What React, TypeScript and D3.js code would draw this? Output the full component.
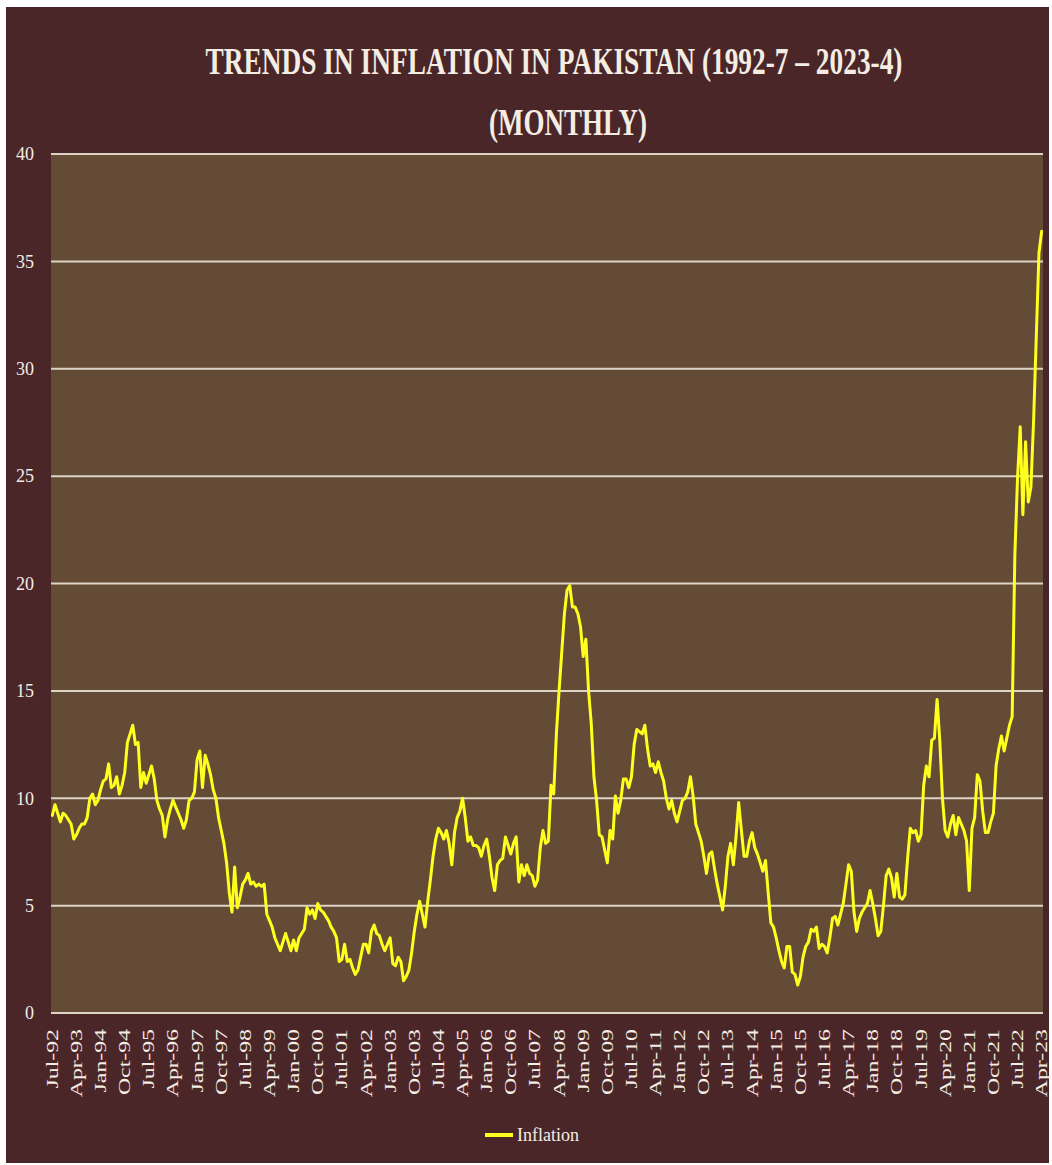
import React from "react";
import * as d3 from "d3";

// Monthly CPI inflation (%), Jul-1992 .. Apr-2023
const inflation1992to1999: number[] = [
  9.2, 9.7, 9.3, 8.9, 9.3, 9.2, 9.0, 8.8, 8.1, 8.3, 8.6, 8.8,
  8.8, 9.1, 10.0, 10.2, 9.7, 9.9, 10.4, 10.8, 10.9, 11.6, 10.5, 10.6,
  11.0, 10.2, 10.6, 11.2, 12.6, 13.0, 13.4, 12.5, 12.6, 10.5, 11.2, 10.7,
  11.1, 11.5, 10.9, 9.9, 9.5, 9.2, 8.2, 9.0, 9.5, 9.9, 9.6, 9.3,
  9.0, 8.6, 9.0, 9.9, 10.0, 10.3, 11.8, 12.2, 10.5, 12.0, 11.6, 11.1,
  10.4, 10.0, 9.1, 8.5, 7.9, 7.0, 5.6, 4.7, 6.8, 4.9, 5.4, 6.0,
  6.2, 6.5, 6.0, 6.1, 5.9, 6.0, 5.9, 6.0, 4.6, 4.3, 4.0, 3.5,
];
const inflation1999to2007: number[] = [
  3.2, 2.9, 3.3, 3.7, 3.3, 2.9, 3.4, 2.9, 3.5, 3.7, 3.9, 4.9,
  4.6, 4.8, 4.4, 5.1, 4.8, 4.7, 4.5, 4.3, 4.0, 3.8, 3.5, 2.4,
  2.5, 3.2, 2.4, 2.5, 2.1, 1.8, 2.0, 2.6, 3.2, 3.2, 2.8, 3.8,
  4.1, 3.7, 3.6, 3.2, 2.9, 3.2, 3.5, 2.3, 2.2, 2.6, 2.4, 1.5,
  1.7, 2.0, 2.8, 3.8, 4.6, 5.2, 4.6, 4.0, 5.2, 6.2, 7.3, 8.1,
  8.6, 8.4, 8.1, 8.5, 7.9, 6.9, 8.4, 9.1, 9.4, 10.0, 9.1, 8.0,
  8.2, 7.8, 7.8, 7.7, 7.3, 7.8, 8.1, 7.3, 6.3, 5.7, 6.9, 7.1,
  7.2, 8.2, 7.8, 7.4, 7.9, 8.2, 6.1, 6.9, 6.4, 6.9, 6.5, 6.4,
];
const inflation2007to2015: number[] = [
  5.9, 6.2, 7.7, 8.5, 7.9, 8.0, 10.6, 10.2, 13.0, 15.0, 16.8, 18.6,
  19.7, 19.9, 18.9, 18.9, 18.6, 18.0, 16.6, 17.4, 15.0, 13.5, 11.0, 9.9,
  8.3, 8.2, 7.6, 7.0, 8.5, 8.1, 10.1, 9.3, 9.9, 10.9, 10.9, 10.5,
  11.0, 12.5, 13.2, 13.1, 13.0, 13.4, 12.3, 11.5, 11.6, 11.2, 11.7, 11.2,
  10.8, 10.0, 9.5, 9.9, 9.3, 8.9, 9.4, 9.9, 10.0, 10.3, 11.0, 10.1,
  8.8, 8.4, 8.0, 7.3, 6.5, 7.4, 7.5, 6.7, 6.0, 5.4, 4.8, 5.9,
  7.3, 7.9, 6.9, 8.2, 9.8, 8.5, 7.3, 7.3, 8.0, 8.4, 7.7, 7.4,
  7.0, 6.6, 7.1, 5.6, 4.2, 4.0, 3.5, 2.9, 2.4, 2.1, 3.1, 3.1,
];
const inflation2015to2023: number[] = [
  1.9, 1.8, 1.3, 1.7, 2.6, 3.1, 3.3, 3.9, 3.8, 4.0, 3.0, 3.2,
  3.1, 2.8, 3.5, 4.4, 4.5, 4.1, 4.6, 5.1, 6.0, 6.9, 6.6, 4.7,
  3.8, 4.4, 4.7, 4.9, 5.1, 5.7, 5.1, 4.4, 3.6, 3.8, 5.0, 6.4,
  6.7, 6.3, 5.4, 6.5, 5.4, 5.3, 5.5, 7.2, 8.6, 8.4, 8.5, 8.0,
  8.3, 10.6, 11.5, 11.0, 12.7, 12.8, 14.6, 12.7, 10.0, 8.5, 8.2, 8.8,
  9.2, 8.3, 9.1, 8.8, 8.5, 8.0, 5.7, 8.6, 9.1, 11.1, 10.8, 9.4,
  8.4, 8.4, 8.9, 9.3, 11.5, 12.3, 12.9, 12.2, 12.8, 13.4, 13.8, 21.3,
  24.9, 27.3, 23.2, 26.6, 23.8, 24.5, 27.6, 31.5, 35.4, 36.4,
];
const inflation: number[] = [
  ...inflation1992to1999,
  ...inflation1999to2007,
  ...inflation2007to2015,
  ...inflation2015to2023,
];

// One label every 9 months, starting at Jul-92
const tickLabels: string[] = [
  "Jul-92", "Apr-93", "Jan-94", "Oct-94", "Jul-95", "Apr-96", "Jan-97",
  "Oct-97", "Jul-98", "Apr-99", "Jan-00", "Oct-00", "Jul-01", "Apr-02",
  "Jan-03", "Oct-03", "Jul-04", "Apr-05", "Jan-06", "Oct-06", "Jul-07",
  "Apr-08", "Jan-09", "Oct-09", "Jul-10", "Apr-11", "Jan-12", "Oct-12",
  "Jul-13", "Apr-14", "Jan-15", "Oct-15", "Jul-16", "Apr-17", "Jan-18",
  "Oct-18", "Jul-19", "Apr-20", "Jan-21", "Oct-21", "Jul-22", "Apr-23",
];
const tickStep = 9;
const yTicks: number[] = [0, 5, 10, 15, 20, 25, 30, 35, 40];
const titleLine1 = "TRENDS IN INFLATION IN PAKISTAN (1992-7 \u2013 2023-4)";
const titleLine2 = "(MONTHLY)";
const seriesName = "Inflation";

const W = 1052;
const H = 1165;
const plot = { left: 51, right: 1043, top: 154, bottom: 1013 };
const BG = "#4b2628";
const PLOT_BG = "#644b36";
const GRID = "#ddd4c6";
const TEXT = "#f4ede4";
const LINE = "#ffff1e";
const SERIF = "'Liberation Serif', 'DejaVu Serif', serif";

export default function App() {
  React.useEffect(() => {
    document.body.style.margin = "0";
  }, []);

  const x = d3
    .scaleBand<number>()
    .domain(d3.range(inflation.length))
    .range([plot.left, plot.right])
    .paddingInner(0)
    .paddingOuter(0);
  const bw = x.bandwidth();
  const cx = (i: number) => (x(i) as number) + bw / 2;
  const y = d3.scaleLinear().domain([0, 40]).range([plot.bottom, plot.top]);

  const line = d3
    .line<number>()
    .x((_, i) => cx(i))
    .y((d) => y(d))
    .curve(d3.curveLinear);

  return (
    <svg
      width={W}
      height={H}
      style={{ position: "absolute", left: 0, top: 0, display: "block" }}
    >
      <rect x={0} y={0} width={W} height={H} fill="#ffffff" />
      <rect x={6} y={7} width={1043} height={1156} fill={BG} />
      <rect
        x={plot.left}
        y={plot.top}
        width={plot.right - plot.left}
        height={plot.bottom - plot.top}
        fill={PLOT_BG}
      />

      {/* title (condensed bold serif) */}
      <text
        transform="translate(554,74) scale(0.72,1)"
        textAnchor="middle"
        fontFamily={SERIF}
        fontWeight="bold"
        fontSize={38}
        fill={TEXT}
      >
        {titleLine1}
      </text>
      <text
        transform="translate(568,135) scale(0.71,1)"
        textAnchor="middle"
        fontFamily={SERIF}
        fontWeight="bold"
        fontSize={38}
        fill={TEXT}
      >
        {titleLine2}
      </text>

      {/* gridlines + y labels */}
      {yTicks.map((t) => (
        <g key={t}>
          <line
            x1={plot.left}
            x2={plot.right}
            y1={y(t)}
            y2={y(t)}
            stroke={GRID}
            strokeWidth={2}
          />
          <text
            x={34}
            y={y(t)}
            dy="0.35em"
            textAnchor="end"
            fontFamily={SERIF}
            fontSize={18}
            fill={TEXT}
          >
            {t}
          </text>
        </g>
      ))}

      {/* x labels */}
      {tickLabels.map((lab, k) => {
        const i = k * tickStep;
        return (
          <text
            key={lab}
            transform={`translate(${cx(i) + 5.5},${1029}) rotate(-90) scale(1.4,1)`}
            textAnchor="end"
            fontFamily={SERIF}
            fontSize={17}
            fill={TEXT}
          >
            {lab}
          </text>
        );
      })}

      {/* series */}
      <path
        d={line(inflation) || ""}
        fill="none"
        stroke={LINE}
        strokeWidth={3}
        strokeLinejoin="round"
        strokeLinecap="round"
      />

      {/* legend */}
      <line
        x1={485}
        x2={513}
        y1={1135}
        y2={1135}
        stroke={LINE}
        strokeWidth={4}
      />
      <text
        x={517}
        y={1141}
        fontFamily={SERIF}
        fontSize={18}
        fill={TEXT}
      >
        {seriesName}
      </text>
    </svg>
  );
}
